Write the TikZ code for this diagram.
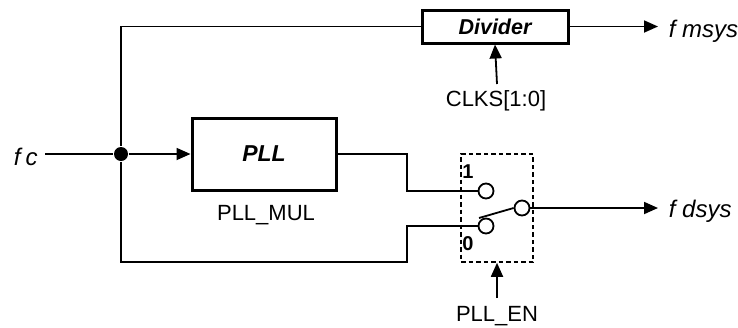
\documentclass[tikz,border=0pt]{standalone}
\usepackage{fontspec}
\setmainfont{Liberation Sans}
\usetikzlibrary{arrows.meta}
\begin{document}
\begin{tikzpicture}[x=1pt,y=-1pt, line width=1.8pt,
  >={Triangle[length=14pt,width=12pt]},
  blk/.style={draw, line width=3pt, inner sep=0pt},
  lbl/.style={font=\fontsize{22}{26}\selectfont, inner sep=0pt},
  sig/.style={font=\fontsize{24}{28}\selectfont\itshape, inner sep=0pt, anchor=west},
  port/.style={circle, draw, line width=1.8pt, minimum size=15pt, inner sep=0pt, fill=white},
  num/.style={font=\fontsize{20}{24}\selectfont\bfseries, inner sep=0pt}]
\useasboundingbox (0,0) rectangle (738,327);
% blocks
\node[blk, minimum width=146pt, minimum height=33pt] (div) at (495,26.5) {\fontsize{21.5}{24}\selectfont\bfseries\itshape Divider};
\node[blk, minimum width=144pt, minimum height=72pt] (pll) at (264,154) {\fontsize{23}{26}\selectfont\bfseries\itshape PLL};
\node[draw, dash pattern=on 4.5pt off 3pt, line width=1.6pt, minimum width=72pt, minimum height=108pt, inner sep=0pt] (sw) at (497,208) {};
% labels
\node[sig] (fc) at (13,157) {f\hspace{5pt}c};
\node[sig] (fm) at (668,31) {f msys};
\node[sig] (fd) at (668,211) {f dsys};
\node[lbl] (clks) at (496,101) {CLKS[1:0]};
\node[lbl] (mul) at (266,215) {PLL\_MUL};
\node[lbl] (pen) at (497,316) {PLL\_EN};
\node[num] (n1) at (468,172) {1};
\node[num] (n0) at (468,244) {0};
% dot
\node[circle, fill, minimum size=14pt, inner sep=0pt] (dot) at (121,154) {};
% switch contacts
\node[port] (c1) at (486,191) {};
\node[port] (c0) at (486,226) {};
\node[port] (co) at (522,208) {};
\coordinate (k1) at (407,191);
\coordinate (k0) at (407,262);
\coordinate (arm) at (479,218);
\coordinate (clkA) at (497,84);
\coordinate (penA) at (497,298);
% connectors
\draw ([xshift=7pt]fc.east |- dot) -- (dot);
\draw[->] (dot) -- (pll.west);
\draw (dot) |- (div.west);
\draw (dot) |- (k0) |- (c0.west);
\draw (pll.east) -| (k1) -- (c1.west);
\draw (arm) -- (co.west);
\draw[->] (div.east) -- ([xshift=-10pt]div.east -| fm.west);
\draw[->] (co.east) -- ([xshift=-10pt]co.east -| fd.west);
\draw[->] (clkA) -- (div.south);
\draw[->] (penA) -- (sw.south);
\end{tikzpicture}
\end{document}
